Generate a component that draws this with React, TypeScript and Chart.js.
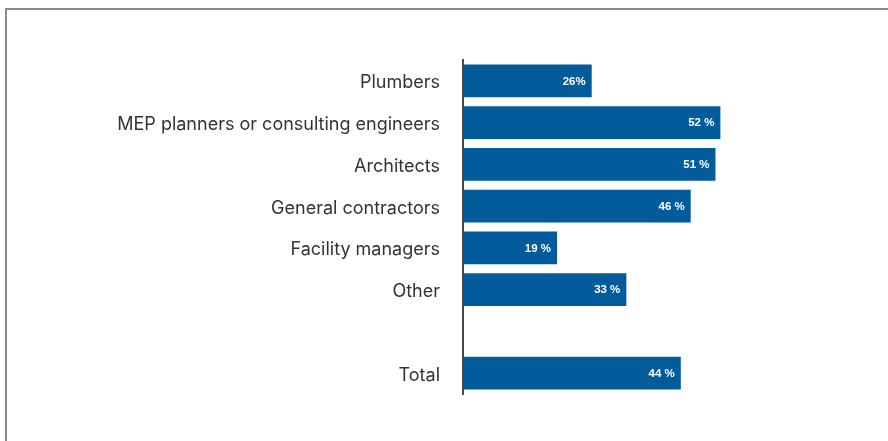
import React, { useEffect, useRef } from "react";
import { Chart, registerables } from "chart.js";

Chart.register(...registerables);

const categories = [
  "Plumbers",
  "MEP planners or consulting engineers",
  "Architects",
  "General contractors",
  "Facility managers",
  "Other",
  "",
  "Total",
];
const values: (number | null)[] = [26, 52, 51, 46, 19, 33, null, 44];
const valueLabels = ["26%", "52 %", "51 %", "46 %", "19 %", "33 %", "", "44 %"];

const BAR_COLOR = "#025C9B";

const valueLabelPlugin = {
  id: "valueLabels",
  afterDatasetsDraw(chart: any) {
    const ctx = chart.ctx;
    const meta = chart.getDatasetMeta(0);
    ctx.save();
    ctx.fillStyle = "#ffffff";
    ctx.font = "bold 11.5px 'Liberation Sans', Arial, sans-serif";
    ctx.textAlign = "right";
    ctx.textBaseline = "middle";
    meta.data.forEach((bar: any, i: number) => {
      if (values[i] == null) return;
      ctx.fillText(valueLabels[i], bar.x - 6, bar.y + 0.5);
    });
    ctx.restore();
  },
};

export default function App() {
  const canvasRef = useRef<HTMLCanvasElement | null>(null);

  useEffect(() => {
    document.body.style.margin = "0";
    const canvas = canvasRef.current;
    if (!canvas) return;
    const chart = new Chart(canvas, {
      type: "bar",
      data: {
        labels: categories,
        datasets: [
          {
            data: values,
            backgroundColor: BAR_COLOR,
            borderWidth: 0,
            barPercentage: 0.79,
            categoryPercentage: 1,
          },
        ],
      },
      options: {
        indexAxis: "y",
        animation: false,
        responsive: false,
        maintainAspectRatio: false,
        layout: { padding: { top: 60, bottom: 47, left: 0, right: 29 } },
        plugins: {
          legend: { display: false },
          tooltip: { enabled: false },
        },
        scales: {
          x: {
            display: false,
            min: 0,
            max: 80,
          },
          y: {
            grid: { display: false, drawTicks: false },
            border: { display: true, color: "#4a4a4a", width: 2 },
            ticks: {
              color: "#333333",
              padding: 23,
              labelOffset: 2,
              font: { family: "Inter, 'Noto Sans', sans-serif", size: 18 },
            },
            afterFit(scale: any) {
              scale.width = 463;
            },
          },
        },
      },
      plugins: [valueLabelPlugin],
    });
    return () => chart.destroy();
  }, []);

  return (
    <div
      style={{
        position: "absolute",
        left: 0,
        top: 0,
        width: 888,
        height: 441,
        overflow: "hidden",
        background: "#fff",
      }}
    >
      <div
        style={{
          position: "absolute",
          left: 5,
          top: 8,
          width: 900,
          height: 460,
          borderLeft: "2px solid #8a8a8a",
          borderTop: "2px solid #8a8a8a",
        }}
      />
      <canvas
        ref={canvasRef}
        width={888}
        height={441}
        style={{ position: "absolute", left: 0, top: 0 }}
      />
    </div>
  );
}
